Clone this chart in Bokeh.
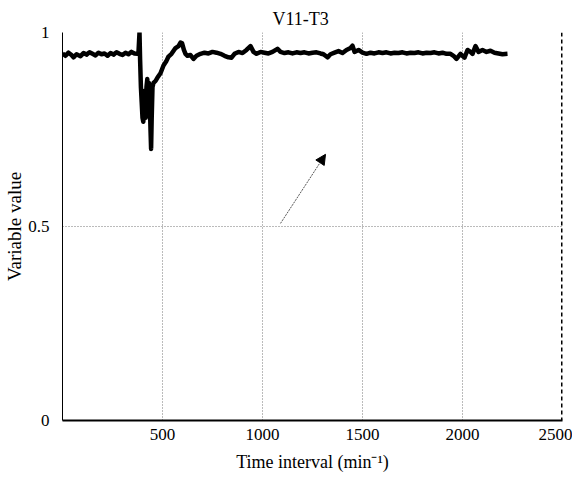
from bokeh.plotting import figure
from bokeh.models import (Range1d, FixedTicker, Span, Arrow, NormalHead, Title,
                          CustomJSTickFormatter)
from bokeh.embed import file_html
from bokeh.resources import INLINE

# ---- data ----
time_min = [0, 15, 30, 45, 55, 70, 90, 105, 120, 135, 150, 165, 180, 195, 210,
            225, 240, 255, 270, 285, 300, 315, 330, 345, 360, 375,
            380, 385, 388, 392, 396, 400, 404, 408, 412, 416, 420, 424, 428,
            432, 436, 440, 443, 446, 450, 455, 465, 475, 490, 505, 518, 530,
            545, 565, 580, 590, 598, 607, 615, 625, 640, 655, 670, 690, 710,
            730, 750, 770, 790, 810, 830, 845, 860, 880, 900, 920, 940, 955,
            970, 990, 1010, 1030, 1050, 1075, 1090, 1110, 1130, 1150, 1170,
            1190, 1210, 1230, 1250, 1270, 1290, 1305, 1325, 1340, 1360, 1380,
            1400, 1420, 1440, 1450, 1460, 1480, 1500, 1520, 1540, 1560, 1580,
            1600, 1620, 1640, 1660, 1680, 1700, 1720, 1740, 1760, 1780, 1800,
            1820, 1840, 1860, 1880, 1900, 1920, 1940, 1955, 1970, 1990, 2000,
            2010, 2025, 2040, 2050, 2065, 2080, 2100, 2120, 2140, 2160, 2180,
            2200, 2225]
variable_value = [0.946, 0.940, 0.948, 0.942, 0.936, 0.944, 0.939, 0.947, 0.943,
                  0.949, 0.945, 0.941, 0.948, 0.944, 0.946, 0.940, 0.947, 0.943,
                  0.949, 0.945, 0.942, 0.948, 0.944, 0.950, 0.946, 0.945,
                  0.950, 1.000, 0.930, 0.860, 0.820, 0.780, 0.770, 0.800, 0.850,
                  0.780, 0.860, 0.880, 0.790, 0.870, 0.830, 0.750, 0.700, 0.780,
                  0.860, 0.870, 0.875, 0.884, 0.895, 0.915, 0.925, 0.938, 0.945,
                  0.960, 0.965, 0.974, 0.972, 0.955, 0.945, 0.940, 0.942, 0.932,
                  0.940, 0.945, 0.948, 0.946, 0.950, 0.948, 0.945, 0.940, 0.936,
                  0.935, 0.945, 0.950, 0.947, 0.955, 0.965, 0.950, 0.945, 0.950,
                  0.948, 0.946, 0.950, 0.958, 0.950, 0.947, 0.949, 0.946, 0.949,
                  0.947, 0.949, 0.946, 0.948, 0.949, 0.946, 0.944, 0.936, 0.944,
                  0.948, 0.952, 0.947, 0.955, 0.960, 0.966, 0.950, 0.955, 0.948,
                  0.945, 0.948, 0.946, 0.949, 0.947, 0.949, 0.946, 0.948, 0.947,
                  0.949, 0.946, 0.948, 0.947, 0.949, 0.946, 0.948, 0.947, 0.949,
                  0.946, 0.948, 0.945, 0.945, 0.940, 0.932, 0.945, 0.940, 0.935,
                  0.955, 0.950, 0.945, 0.965, 0.950, 0.955, 0.950, 0.953, 0.948,
                  0.946, 0.944, 0.945, 0.944]

x_ticks = [500, 1000, 1500, 2000, 2500]
y_ticks = [0, 0.5, 1]
x_grid = [500, 1000, 1500, 2000]
y_grid = [0.5]
x_end = 2500
arrow_start = (1090, 0.508)
arrow_end = (1315, 0.686)
title_text = "V11-T3"

FONT = "Liberation Serif"

p = figure(width=572, height=475, output_backend="svg", toolbar_location=None,
           x_range=Range1d(0, 2500), y_range=Range1d(0, 1),
           min_border_left=62, min_border_right=10, min_border_top=32,
           min_border_bottom=55, outline_line_color=None,
           background_fill_color="white", border_fill_color="white")

p.add_layout(Title(text=title_text, align="left", offset=210,
                   text_font=FONT, text_font_size="18px",
                   text_font_style="normal", text_color="black",
                   standoff=7), "above")

p.line(time_min, variable_value, line_color="black", line_width=4.5,
       line_join="round")

# axes
p.xaxis.ticker = FixedTicker(ticks=x_ticks)
p.yaxis.ticker = FixedTicker(ticks=y_ticks)
p.yaxis.formatter = CustomJSTickFormatter(code="return tick == 0.5 ? '0.5' : tick.toFixed(0);")
for ax in (p.xaxis[0], p.yaxis[0]):
    ax.major_tick_line_color = None
    ax.minor_tick_line_color = None
    ax.axis_line_color = "black"
    ax.major_label_text_font = FONT
    ax.major_label_text_font_size = "17px"
    ax.major_label_text_color = "black"
    ax.axis_label_text_font = FONT
    ax.axis_label_text_font_style = "normal"
    ax.axis_label_text_color = "black"
p.xaxis.axis_line_width = 2
p.yaxis.axis_line_width = 1
p.xaxis.major_label_standoff = 2
p.yaxis.major_label_standoff = 7
p.xaxis.axis_label = "Time interval (min\u207b\u00b9)"
p.yaxis.axis_label = "Variable value"
p.xaxis.axis_label_text_font_size = "18px"
p.yaxis.axis_label_text_font_size = "19px"
p.xaxis.axis_label_standoff = 9
p.yaxis.axis_label_standoff = 0

# grid
p.xgrid.ticker = FixedTicker(ticks=x_grid)
p.ygrid.ticker = FixedTicker(ticks=y_grid)
for g in (p.xgrid[0], p.ygrid[0]):
    g.grid_line_color = "#777777"
    g.grid_line_dash = "1 2"
    g.grid_line_width = 1

p.add_layout(Span(location=x_end, dimension="height", line_color="black",
                  line_width=3, line_dash="4 3"))

p.add_layout(Arrow(end=NormalHead(size=10, fill_color="black", line_color="black"),
                   x_start=arrow_start[0], y_start=arrow_start[1],
                   x_end=arrow_end[0], y_end=arrow_end[1],
                   line_color="#555555", line_width=1, line_dash="2 1"))

open("out.html", "w").write(file_html(p, INLINE))
